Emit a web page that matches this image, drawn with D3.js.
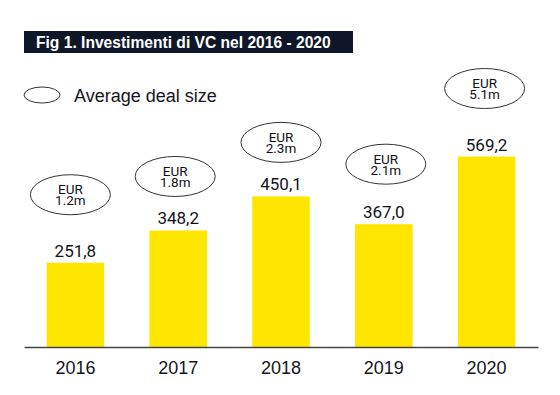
<!DOCTYPE html>
<html>
<head>
<meta charset="utf-8">
<script src="https://cdn.jsdelivr.net/npm/d3@7"></script>
<style>
  body { margin: 0; background: #fff; }
  svg { display: block; }
</style>
</head>
<body>
<div id="chart"></div>
<script>
// VC investments, EUR m
const years = ['2016', '2017', '2018', '2019', '2020']
const invested = [251.8, 348.2, 450.1, 367.0, 569.2]
const dealSize = ['1.2m', '1.8m', '2.3m', '2.1m', '5.1m']
// how far each bubble sits above its bar top (px)
const bubbleLift = [68, 54, 54, 60, 68]
const bubbleShift = [-5, -3, 0, 2, -2]

const W = 560, H = 395
const axisY = 347

const svg = d3.select('#chart').append('svg')
  .attr('width', W)
  .attr('height', H)

// title bar
svg.append('rect')
  .attr('x', 24).attr('y', 31)
  .attr('width', 329).attr('height', 22)
  .attr('fill', '#0e1727')
svg.append('text')
  .attr('x', 36).attr('y', 48)
  .attr('font-family', '"Liberation Sans Narrow", "Liberation Sans", Arial, sans-serif')
  .attr('font-weight', 'bold')
  .attr('font-size', 15.6)
  .attr('fill', '#fff')
  .text('Fig 1. Investimenti di VC nel 2016 - 2020')

// legend
svg.append('ellipse')
  .attr('cx', 42).attr('cy', 95)
  .attr('rx', 18).attr('ry', 8)
  .attr('fill', 'none')
  .attr('stroke', '#333')
  .attr('stroke-width', 1)
svg.append('text')
  .attr('x', 74).attr('y', 102)
  .attr('font-family', '"Liberation Sans", Arial, sans-serif')
  .attr('font-size', 18)
  .attr('fill', '#15151c')
  .text('Average deal size')

const x = d3.scaleBand()
  .domain(years)
  .range([24, 538])
  .paddingInner(0.44)
  .paddingOuter(0.22)

const y = d3.scaleLinear()
  .domain([0, 600])
  .range([axisY, axisY - 200.8])

const data = years.map((yr, i) => ({ yr, v: invested[i], deal: dealSize[i], i }))

svg.selectAll('.bar').data(data)
  .enter().append('rect')
  .attr('class', 'bar')
  .attr('x', d => x(d.yr))
  .attr('y', d => y(d.v))
  .attr('width', x.bandwidth())
  .attr('height', d => axisY - y(d.v))
  .attr('fill', '#ffe600')

svg.selectAll('.val').data(data)
  .enter().append('text')
  .attr('class', 'val')
  .attr('x', d => x(d.yr) + x.bandwidth() / 2)
  .attr('y', d => y(d.v) - 6)
  .attr('text-anchor', 'middle')
  .attr('font-family', 'Roboto, sans-serif')
  .attr('font-size', 17)
  .attr('fill', '#111118')
  .text(d => d3.format('.1f')(d.v).replace('.', ','))

const bubble = svg.selectAll('.bubble').data(data)
  .enter().append('g')
  .attr('class', 'bubble')
  .attr('transform', d => `translate(${x(d.yr) + x.bandwidth() / 2 + bubbleShift[d.i]}, ${y(d.v) - bubbleLift[d.i]})`)
bubble.append('ellipse')
  .attr('rx', 40).attr('ry', 20)
  .attr('fill', '#fff')
  .attr('stroke', '#333')
  .attr('stroke-width', 1)
const label = bubble.append('text')
  .attr('text-anchor', 'middle')
  .attr('font-family', 'Roboto, sans-serif')
  .attr('font-size', 13.5)
  .attr('fill', '#111118')
label.append('tspan')
  .attr('x', 0).attr('y', -0.5)
  .text('EUR')
label.append('tspan')
  .attr('x', 0).attr('y', 10.5)
  .text(d => d.deal)

// x axis: a plain line with year labels
const xAxis = d3.axisBottom(x).tickSize(0).tickPadding(14)
const gx = svg.append('g')
  .attr('transform', `translate(0, ${axisY})`)
  .call(xAxis)
gx.select('.domain')
  .attr('stroke', '#444')
  .attr('stroke-width', 1.5)
gx.selectAll('text')
  .attr('font-family', '"Liberation Sans", Arial, sans-serif')
  .attr('font-size', 18)
  .attr('fill', '#15151c')
</script>
</body>
</html>
